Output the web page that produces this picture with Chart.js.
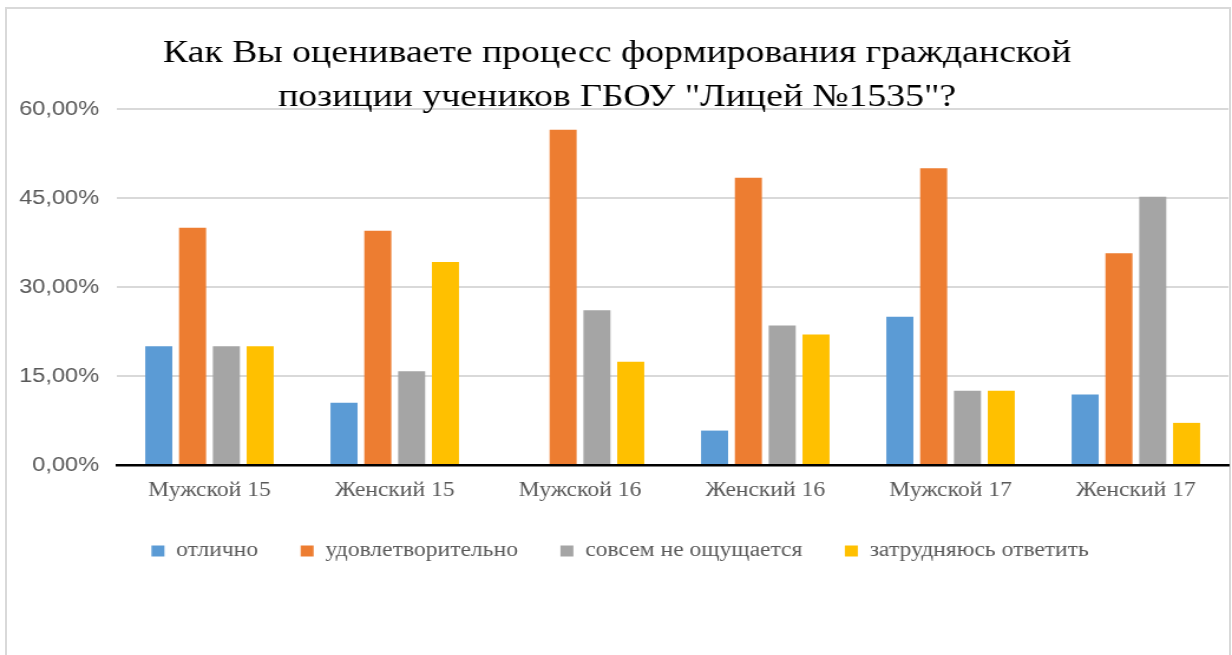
<!DOCTYPE html>
<html lang="ru">
<head>
<meta charset="utf-8">
<script src="https://cdn.jsdelivr.net/npm/chart.js@4/dist/chart.umd.min.js"></script>
<style>
  html, body { margin: 0; padding: 0; background: #fff; width: 1232px; height: 655px; overflow: hidden; }
  #frame { position: absolute; left: 5px; top: 7px; width: 1226px; height: 700px; box-sizing: border-box; border: 2px solid #d9d9d9; }
  #c { position: absolute; left: 0; top: 0; width: 1232px; height: 655px; }
</style>
</head>
<body>
<div id="frame"></div>
<canvas id="c" width="1044" height="655" style="width:1232px;height:655px;"></canvas>
<script>
const titleLines = ['Как Вы оцениваете процесс формирования гражданской', 'позиции учеников ГБОУ "Лицей №1535"?'];
const categories = ['Мужской 15', 'Женский 15', 'Мужской 16', 'Женский 16', 'Мужской 17', 'Женский 17'];
const seriesNames = ['отлично', 'удовлетворительно', 'совсем не ощущается', 'затрудняюсь ответить'];
const excellent = [20.0, 10.5, 0.0, 5.8, 25.0, 11.9];
const satisfactory = [40.0, 39.5, 56.5, 48.4, 50.0, 35.7];
const notFelt = [20.0, 15.8, 26.1, 23.5, 12.5, 45.2];
const hardToSay = [20.0, 34.2, 17.4, 22.0, 12.5, 7.1];
const yTicks = [0, 15, 30, 45, 60];
const colors = ['#5B9BD5', '#ED7D31', '#A5A5A5', '#FFC000'];

const serif = '"Liberation Serif", "Times New Roman", Times, serif';

const titlePlugin = {
  id: 'fixedTitle',
  afterDraw(chart) {
    const ctx = chart.ctx;
    ctx.save();
    ctx.fillStyle = '#000';
    ctx.font = '32px ' + serif;
    ctx.textAlign = 'center';
    ctx.textBaseline = 'alphabetic';
    ctx.fillText(titleLines[0], 523, 62);
    ctx.fillText(titleLines[1], 523, 106);
    ctx.restore();
  }
};

const seriesValues = [excellent, satisfactory, notFelt, hardToSay];
new Chart(document.getElementById('c'), {
  type: 'bar',
  data: {
    labels: categories,
    datasets: seriesNames.map((n, i) => ({
      label: n,
      data: seriesValues[i],
      backgroundColor: colors[i],
      borderWidth: 0,
      categoryPercentage: 0.73,
      barPercentage: 0.8
    }))
  },
  options: {
    responsive: false,
    animation: false,
    devicePixelRatio: 1,
    layout: { padding: { top: 109, right: 3, bottom: 84, left: 10 } },
    plugins: {
      title: { display: false },
      tooltip: { enabled: false },
      legend: {
        position: 'bottom',
        labels: {
          boxWidth: 11,
          boxHeight: 11,
          padding: 36,
          color: '#595959',
          font: { family: serif, size: 20 }
        }
      }
    },
    scales: {
      x: {
        grid: { display: false, drawTicks: false },
        border: { display: true, color: '#000', width: 2.5 },
        ticks: {
          color: '#595959',
          padding: 14,
          font: { family: serif, size: 20 }
        },
        afterFit(s) { s.height = 40; }
      },
      y: {
        min: 0,
        max: 60,
        afterBuildTicks(s) { s.ticks = yTicks.map(v => ({ value: v })); },
        grid: { color: '#d9d9d9', lineWidth: 2, drawTicks: false },
        border: { display: false },
        ticks: {
          color: '#595959',
          padding: 15,
          font: { family: '"Liberation Sans", Arial, sans-serif', size: 20 },
          callback: v => v.toFixed(2).replace('.', ',') + '%'
        },
        afterFit(s) { s.width = 89; }
      }
    }
  },
  plugins: [titlePlugin]
});
</script>
</body>
</html>
